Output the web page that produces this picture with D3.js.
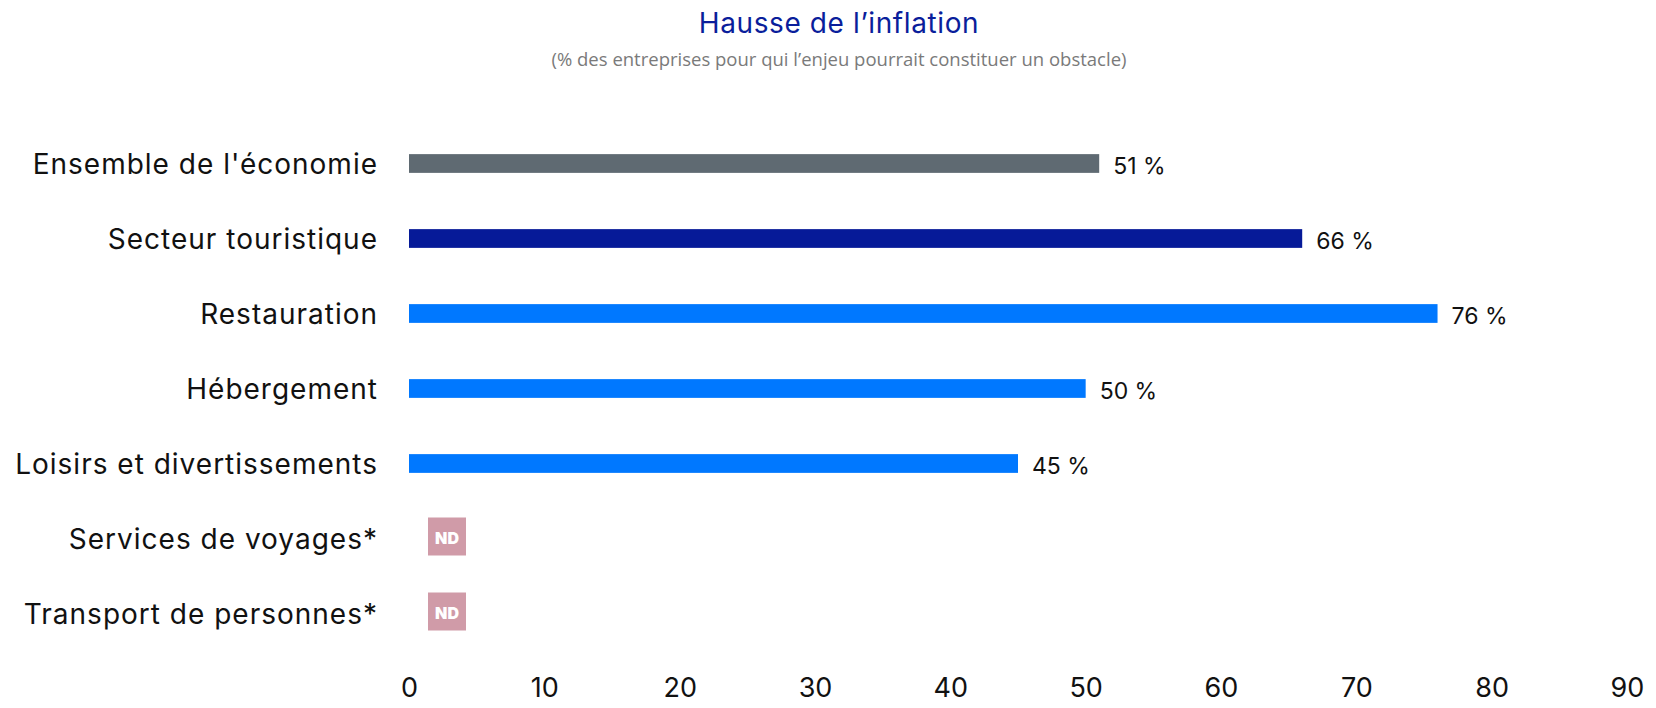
<!DOCTYPE html>
<html>
<head>
<meta charset="utf-8">
<script src="https://cdn.jsdelivr.net/npm/d3@7"></script>
<style>
  body { margin: 0; background: #fff; }
  svg { display: block; }
  .axis .domain { display: none; }
</style>
</head>
<body>
<div id="chart"></div>
<script>
// Data
const categories = [
  "Ensemble de l'économie",
  'Secteur touristique',
  'Restauration',
  'Hébergement',
  'Loisirs et divertissements',
  'Services de voyages*',
  'Transport de personnes*'
]
const values = [51, 66, 76, 50, 45, null, null]
const barColors = ['#5f6a72', '#061a98', '#0078ff', '#0078ff', '#0078ff', null, null]
const tickValues = [0, 10, 20, 30, 40, 50, 60, 70, 80, 90]

const width = 1656
const height = 708
const font = "Inter, 'DejaVu Sans', sans-serif"

const svg = d3.select('#chart').append('svg')
  .attr('width', width)
  .attr('height', height)

// Title
svg.append('text')
  .attr('x', 839).attr('y', 23)
  .attr('text-anchor', 'middle')
  .attr('dominant-baseline', 'central')
  .style('font-family', font)
  .style('font-size', '28px')
  .style('letter-spacing', '0.6px')
  .style('fill', '#0a1e9b')
  .text('Hausse de l’inflation')

svg.append('text')
  .attr('x', 839).attr('y', 58)
  .attr('text-anchor', 'middle')
  .attr('dominant-baseline', 'central')
  .style('font-family', "'Open Sans', sans-serif")
  .style('font-size', '18.5px')
  .style('fill', '#7a7a7a')
  .text('(% des entreprises pour qui l’enjeu pourrait constituer un obstacle)')

// Scales
const xScale = d3.scaleLinear()
  .domain([0, 90])
  .range([409, 1627])

const yScale = d3.scaleBand()
  .domain(categories)
  .range([126, 651])
  .paddingInner(0.75)
  .paddingOuter(0.375)

const rows = categories.map((c, i) => ({ cat: c, value: values[i], color: barColors[i] }))

// Category labels
svg.append('g').selectAll('text')
  .data(rows)
  .enter().append('text')
    .attr('x', 378)
    .attr('y', d => yScale(d.cat) + yScale.bandwidth() / 2)
    .attr('text-anchor', 'end')
    .attr('dominant-baseline', 'central')
    .style('font-family', font)
    .style('font-size', '28px')
    .style('letter-spacing', '1px')
    .style('fill', '#111')
    .text(d => d.cat)

// Bars
const withValue = rows.filter(d => d.value != null)
svg.append('g').selectAll('rect')
  .data(withValue)
  .enter().append('rect')
    .attr('x', xScale(0))
    .attr('y', d => yScale(d.cat))
    .attr('width', d => xScale(d.value) - xScale(0))
    .attr('height', yScale.bandwidth())
    .style('fill', d => d.color)

svg.append('g').selectAll('text')
  .data(withValue)
  .enter().append('text')
    .attr('x', d => xScale(d.value) + 14)
    .attr('y', d => yScale(d.cat) + yScale.bandwidth() / 2 + 2)
    .attr('dominant-baseline', 'central')
    .style('font-family', font)
    .style('font-size', '23px')
    .style('fill', '#111')
    .text(d => d.value + '\u00a0%')

// ND badges
const missing = rows.filter(d => d.value == null)
const nd = svg.append('g').selectAll('g')
  .data(missing)
  .enter().append('g')
    .attr('transform', d => `translate(${xScale(0) + 19}, ${yScale(d.cat) + yScale.bandwidth() / 2 - 21})`)
nd.append('rect')
  .attr('width', 38)
  .attr('height', 38)
  .style('fill', '#d09ba8')
nd.append('text')
  .attr('x', 19).attr('y', 20)
  .attr('text-anchor', 'middle')
  .attr('dominant-baseline', 'central')
  .style('font-family', font)
  .style('font-size', '16px')
  .style('font-weight', 900)
  .style('fill', '#fff')
  .text('ND')

// Axis
const xAxis = d3.axisBottom(xScale)
  .tickValues(tickValues)
  .tickSize(0)
  .tickPadding(0)
svg.append('g')
  .attr('class', 'axis')
  .attr('transform', 'translate(0, 678)')
  .call(xAxis)
  .call(g => g.selectAll('text')
    .style('font-family', font)
    .style('font-size', '27px')
    .style('fill', '#111'))
</script>
</body>
</html>
